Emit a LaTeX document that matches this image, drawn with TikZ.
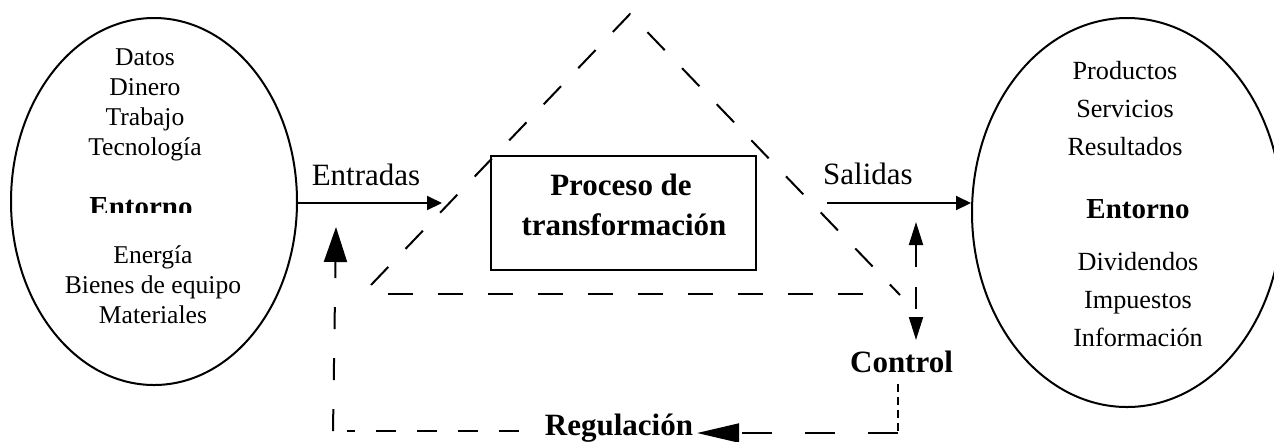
\documentclass[tikz,border=0pt]{standalone}
\usepackage{fontspec}
\setmainfont{Liberation Serif}
\usetikzlibrary{positioning,shapes.geometric,arrows.meta}

\begin{document}
\begin{tikzpicture}[x=0.5pt, y=-0.5pt, line width=1pt, -{Triangle[length=7.5pt,width=7pt]},
    node distance = 15pt,
    main/.style = {draw, ellipse, inner sep=0pt},
    word/.style = {inner sep=0pt, text height=9pt, text depth=3pt, font=\fontsize{12.8}{15}\selectfont},
    wordr/.style = {word, font=\fontsize{13.1}{15}\selectfont},
    entb/.style = {inner sep=0pt, font=\fontsize{14.5}{17}\selectfont\bfseries},
    big/.style = {inner sep=0pt, font=\fontsize{15.5}{18}\selectfont},
    bigb/.style = {inner sep=0pt, font=\fontsize{15.5}{18}\selectfont\bfseries},
    tri/.style = {-, dash pattern=on 12.5pt off 12.5pt},
    loopd/.style = {dash pattern=on 10pt off 10.5pt}]
        \useasboundingbox (0,0) rectangle (1274,441);

        % entorno de entrada
        \node[main, minimum width=143pt, minimum height=183.5pt] (1) at (154,201.5) {};
        \node[word, anchor=base] (2) at (145,65) {Datos};
        \node[word] (3) [below of=2] {Dinero};
        \node[word] (4) [below of=3] {Trabajo};
        \node[word] (5) [below of=4] {Tecnología};
        \begin{scope}
            \clip (40,170) rectangle (260,212);
            \node[entb, anchor=base] (6) at (141,216) {Entorno};
        \end{scope}
        \node[word, anchor=base] (7) at (153,263) {Energía};
        \node[word] (8) [below of=7] {Bienes de equipo};
        \node[word] (9) [below of=8] {Materiales};

        % entorno de salida
        \node[main, minimum width=155pt, minimum height=194.5pt] (10) at (1127,212.5) {};
        \node[wordr, anchor=base] (11) at (1125,79) {Productos};
        \node[wordr, node distance=19pt] (12) [below of=11] {Servicios};
        \node[wordr, node distance=19pt] (13) [below of=12] {Resultados};
        \node[entb, anchor=base] (14) at (1138,218) {Entorno};
        \node[wordr, anchor=base] (15) at (1138,270) {Dividendos};
        \node[wordr, node distance=19pt] (16) [below of=15] {Impuestos};
        \node[wordr, node distance=19pt] (17) [below of=16] {Información};

        % proceso
        \node[draw, minimum width=132.5pt, minimum height=57pt, inner sep=0pt] (18) at (623.5,213) {};
        \node[bigb, anchor=base] (19) at (621,195) {Proceso de};
        \node[bigb, anchor=base] (20) at (624,235) {transformación};

        \node[big, anchor=base] (21) at (366,185) {Entradas};
        \node[big, anchor=base] (22) at (868,184) {Salidas};
        \node[bigb, anchor=base] (23) at (901.5,372) {Control};
        \node[bigb, anchor=base, inner sep=1.5pt] (24) at (619,435) {Regulación};

        \coordinate (25) at (442,203);
        \coordinate (26) at (827,203);
        \coordinate (27) at (916,222);
        \coordinate (28) at (916,340);
        \coordinate (29) at (898,433);
        \coordinate (30) at (333,431);
        \coordinate (31) at (336,227);

        % triangulo
        \draw [tri] (371,285) -- (630,14) -- (900,295);
        \draw [tri] (388,294) -- (869,294);

        \draw (1.east |- 25) -- (25);
        \draw (26) -- (26 -| 10.west);
        \draw [{Triangle[length=11.5pt,width=7pt]}-{Triangle[length=11.5pt,width=7pt]}, dash pattern=on 11pt off 10pt] (27) -- (28);
        \draw [-, dash pattern=on 4pt off 2.5pt, shorten <=5.5pt] (23.south -| 29) -- (29);
        \draw [-{Triangle[length=21pt,width=9.5pt]}, dash pattern=on 15pt off 16.5pt] (29) -- (29 -| 24.east);
        \draw [-, loopd, shorten <=11pt, shorten >=7pt] (24.west |- 30) -- (30);
        \draw [-{Triangle[length=17.5pt,width=11.5pt]}, dash pattern=on 11pt off 14.5pt] (30) -- (31);
    \end{tikzpicture}
\end{document}
